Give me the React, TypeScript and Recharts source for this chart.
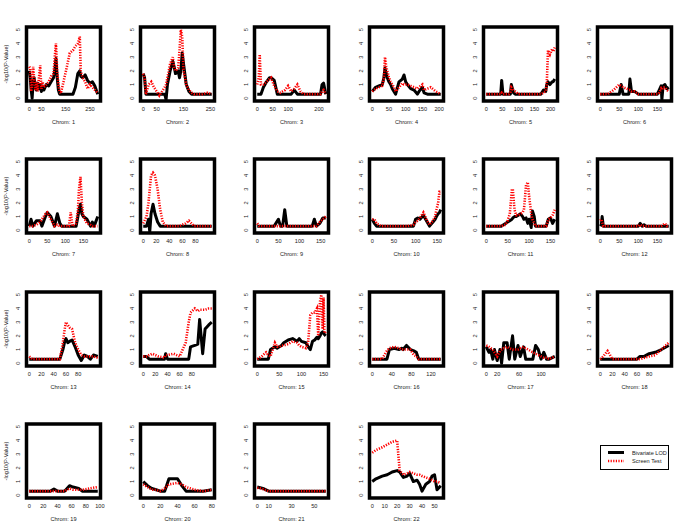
import React from "react";
import { LineChart, Line, XAxis, YAxis, ReferenceArea } from "recharts";

// marker positions (x), bivariate LOD (black) and screen test (red) per chromosome
const chr1Pos = [0, 4, 8, 12, 16, 20, 25, 30, 35, 40, 45, 50, 55, 60, 70, 80, 90, 100, 105, 110, 115, 120, 125, 130, 150, 167, 180, 190, 200, 208, 212, 220, 230, 240, 250, 260, 270, 282];
const chr1Lod = [2.0, 1.5, 0.6, 0.0, 1.2, 1.5, 0.8, 0.6, 1.1, 0.7, 1.0, 0.5, 0.9, 0.6, 1.0, 0.9, 1.2, 1.5, 2.0, 2.9, 1.5, 0.6, 0.3, 0.3, 0.3, 0.3, 0.3, 0.8, 1.8, 2.0, 1.6, 1.5, 1.7, 1.3, 1.1, 1.2, 0.9, 0.3];
const chr1Scr = [2.3, 2.2, 0.5, 1.0, 2.3, 1.5, 0.6, 1.2, 0.5, 1.5, 2.4, 0.7, 1.2, 0.8, 1.0, 1.2, 1.6, 1.8, 3.0, 4.0, 2.0, 1.0, 0.5, 0.35, 1.9, 3.3, 3.5, 3.8, 4.0, 4.5, 2.0, 1.5, 1.2, 0.7, 1.0, 0.8, 0.6, 0.4];
const chr1Ticks = [0, 50, 150, 250];

const chr2Pos = [0, 5, 10, 20, 30, 40, 50, 60, 70, 80, 85, 90, 100, 110, 115, 120, 130, 135, 140, 145, 150, 160, 170, 180, 190, 200, 220, 240, 255];
const chr2Lod = [1.8, 1.5, 0.3, 0.3, 0.3, 0.3, 0.3, 0.3, 0.3, 0.3, -0.1, 1.0, 2.0, 2.7, 2.3, 1.8, 2.0, 1.5, 2.0, 3.3, 2.5, 1.0, 0.5, 0.3, 0.3, 0.3, 0.3, 0.3, 0.3];
const chr2Scr = [1.8, 1.5, 0.3, 1.0, 1.2, 0.8, 0.5, 0.2, 0.5, 0.8, 1.0, 1.5, 2.5, 3.0, 2.2, 2.0, 2.2, 3.5, 5.0, 4.5, 2.0, 1.0, 0.6, 0.4, 0.3, 0.3, 0.3, 0.4, 0.3];
const chr2Ticks = [0, 50, 150, 250];

const chr3Pos = [0, 5, 8, 12, 20, 30, 40, 45, 55, 65, 75, 90, 100, 110, 120, 130, 140, 150, 170, 190, 205, 210, 215, 222];
const chr3Lod = [0.3, 0.3, 0.3, 0.3, 0.8, 1.2, 1.5, 1.5, 1.3, 0.3, 0.3, 0.3, 0.3, 0.3, 0.6, 0.3, 0.3, 0.3, 0.3, 0.3, 0.3, 1.0, 1.1, 0.3];
const chr3Scr = [1.0, 1.5, 3.2, 1.0, 1.0, 1.2, 1.4, 1.5, 0.9, 0.5, 0.4, 0.6, 0.9, 0.5, 0.7, 1.0, 0.5, 0.3, 0.3, 0.3, 0.3, 0.5, 0.6, 0.3];
const chr3Ticks = [0, 50, 100, 200];

const chr4Pos = [0, 10, 20, 30, 35, 38, 42, 45, 50, 55, 60, 65, 70, 80, 90, 95, 100, 105, 115, 125, 135, 140, 150, 155, 165, 175, 190, 205];
const chr4Lod = [0.5, 0.8, 0.9, 1.0, 1.5, 2.2, 1.8, 1.5, 1.2, 1.0, 0.7, 0.5, 0.3, 1.2, 1.4, 1.7, 1.2, 1.0, 0.7, 0.6, 0.3, 0.5, 0.8, 0.4, 0.3, 0.3, 0.3, 0.3];
const chr4Scr = [0.5, 0.7, 0.8, 0.9, 1.5, 3.0, 2.3, 2.0, 1.5, 1.2, 1.0, 0.8, 0.5, 0.8, 1.1, 1.0, 1.0, 1.0, 0.9, 0.8, 0.7, 0.8, 1.0, 0.6, 0.7, 0.8, 0.5, 0.3];
const chr4Ticks = [0, 50, 100, 150, 200];

const chr5Pos = [0, 20, 40, 45, 48, 52, 60, 70, 75, 78, 85, 90, 100, 120, 140, 160, 170, 178, 185, 188, 192, 198, 205, 208, 213];
const chr5Lod = [0.3, 0.3, 0.3, 0.3, 1.3, 0.3, 0.3, 0.3, 0.3, 1.0, 0.4, 0.3, 0.3, 0.3, 0.3, 0.3, 0.3, 0.6, 0.5, 1.0, 1.2, 1.0, 1.2, 1.2, 1.4];
const chr5Scr = [0.3, 0.3, 0.3, 0.3, 0.4, 0.3, 0.3, 0.3, 0.4, 0.8, 0.6, 0.5, 0.3, 0.3, 0.3, 0.3, 0.3, 0.4, 0.5, 1.0, 3.5, 3.2, 3.6, 3.4, 3.7];
const chr5Ticks = [0, 50, 100, 150, 200];

const chr6Pos = [0, 20, 35, 50, 55, 60, 70, 75, 78, 82, 90, 100, 120, 140, 150, 155, 160, 162, 165, 170, 175, 180];
const chr6Lod = [0.3, 0.3, 0.3, 0.3, 1.0, 0.3, 0.3, 0.3, 1.4, 0.5, 0.5, 0.3, 0.3, 0.3, 0.3, 0.6, 0.9, -0.1, 0.9, 1.0, 0.7, 0.8];
const chr6Scr = [0.3, 0.3, 0.6, 1.0, 0.9, 0.8, 0.7, 0.6, 0.6, 0.5, 0.5, 0.3, 0.3, 0.3, 0.3, 0.4, 0.7, 0.6, 0.8, 0.8, 0.6, 0.5];
const chr6Ticks = [0, 50, 100, 150];

const chr7Pos = [0, 5, 10, 20, 30, 35, 45, 50, 60, 70, 78, 85, 90, 110, 115, 120, 130, 135, 138, 142, 146, 150, 160, 170, 175, 180, 190];
const chr7Lod = [0.3, 0.8, 0.3, 0.7, 0.7, 0.3, 1.0, 1.3, 1.0, 0.3, 1.2, 0.5, 0.3, 0.3, 0.3, 0.3, 0.3, 1.0, 1.5, 1.9, 1.2, 1.0, 0.8, 0.3, 0.6, 0.3, 1.0];
const chr7Scr = [0.3, 0.3, 0.3, 0.4, 0.6, 0.8, 1.2, 1.3, 0.8, 0.3, 0.4, 0.3, 0.3, 0.3, 1.3, 0.3, 0.5, 1.5, 3.0, 3.9, 2.0, 1.0, 0.5, 0.4, 0.3, 0.3, 0.3];
const chr7Ticks = [0, 50, 100, 150];

const chr8Pos = [0, 5, 8, 10, 12, 15, 18, 22, 26, 30, 35, 45, 55, 65, 70, 78, 90, 105];
const chr8Lod = [0.3, 0.3, 0.8, -0.1, 1.2, 1.9, 1.2, 0.6, 0.3, 0.3, 0.3, 0.3, 0.3, 0.3, 0.3, 0.3, 0.3, 0.3];
const chr8Scr = [0.5, 1.0, 2.0, 3.0, 4.0, 4.2, 4.0, 3.0, 1.5, 0.6, 0.3, 0.3, 0.3, 0.5, 0.7, 0.3, 0.3, 0.3];
const chr8Ticks = [0, 20, 40, 60, 80];

const chr9Pos = [0, 5, 20, 40, 50, 55, 60, 65, 70, 90, 110, 130, 135, 140, 148, 155, 162];
const chr9Lod = [0.3, 0.3, 0.3, 0.3, 0.8, 0.3, 0.3, 1.5, 0.3, 0.3, 0.3, 0.3, 0.8, 0.3, 0.5, 0.9, 0.9];
const chr9Scr = [0.5, 0.3, 0.3, 0.3, 0.3, 0.3, 0.3, 0.3, 0.3, 0.3, 0.3, 0.3, 0.3, 0.3, 0.6, 0.8, 1.0];
const chr9Ticks = [0, 50, 100, 150];

const chr10Pos = [0, 5, 10, 20, 40, 60, 80, 95, 100, 105, 110, 118, 125, 132, 140, 145, 148, 152, 155, 158];
const chr10Lod = [0.8, 0.5, 0.3, 0.3, 0.3, 0.3, 0.3, 0.3, 0.8, 0.9, 0.8, 1.1, 0.7, 0.3, 0.6, 0.8, 1.0, 1.2, 1.3, 1.5];
const chr10Scr = [0.8, 0.8, 0.5, 0.3, 0.3, 0.3, 0.3, 0.4, 0.6, 0.7, 0.9, 1.3, 0.8, 0.4, 0.7, 1.0, 1.5, 2.0, 2.8, 2.8];
const chr10Ticks = [0, 50, 100, 150];

const chr11Pos = [0, 20, 35, 45, 50, 55, 60, 62, 66, 70, 75, 80, 85, 88, 93, 97, 100, 102, 105, 108, 112, 115, 130, 140, 145, 150, 155, 160];
const chr11Lod = [0.3, 0.3, 0.3, 0.5, 0.6, 0.7, 0.8, 0.9, 1.0, 1.0, 1.1, 1.2, 1.0, 0.8, 0.9, 0.5, 0.8, 0.6, 0.2, 1.4, 1.0, 0.3, 0.3, 0.3, 0.8, 0.9, 0.5, 0.8];
const chr11Scr = [0.3, 0.3, 0.3, 0.4, 0.7, 1.2, 3.0, 3.0, 1.5, 1.1, 1.1, 1.2, 1.3, 1.5, 3.3, 3.5, 2.5, 2.0, 1.2, 0.8, 0.5, 0.3, 0.3, 0.3, 0.8, 0.9, 1.1, 1.5];
const chr11Ticks = [0, 50, 100, 150];

const chr12Pos = [0, 3, 5, 8, 20, 40, 60, 80, 100, 105, 110, 115, 120, 140, 160, 170, 175, 180];
const chr12Lod = [0.3, 0.4, 1.0, 0.3, 0.3, 0.3, 0.3, 0.3, 0.3, 0.5, 0.3, 0.4, 0.3, 0.3, 0.3, 0.3, 0.3, 0.3];
const chr12Scr = [0.7, 0.8, 0.6, 0.3, 0.3, 0.3, 0.3, 0.3, 0.3, 0.4, 0.3, 0.3, 0.3, 0.3, 0.3, 0.5, 0.3, 0.3];
const chr12Ticks = [0, 50, 100, 150];

const chr13Pos = [0, 5, 20, 40, 50, 55, 58, 60, 63, 66, 70, 75, 80, 85, 90, 95, 100, 105, 112];
const chr13Lod = [0.3, 0.3, 0.3, 0.3, 0.3, 1.0, 1.6, 1.8, 1.5, 1.6, 1.7, 1.2, 0.6, 0.2, 0.6, 0.5, 0.3, 0.6, 0.5];
const chr13Scr = [0.5, 0.3, 0.3, 0.3, 0.3, 1.5, 2.5, 3.0, 2.8, 2.6, 2.5, 1.5, 1.0, 0.6, 0.5, 0.5, 0.5, 0.5, 0.4];
const chr13Ticks = [0, 20, 40, 60, 80];

const chr14Pos = [0, 5, 10, 15, 25, 35, 37, 40, 50, 60, 70, 75, 78, 85, 90, 93, 98, 102, 108, 113];
const chr14Lod = [0.5, 0.5, 0.3, 0.3, 0.3, 0.3, 0.7, 0.3, 0.3, 0.3, 0.3, 0.3, 1.2, 1.3, 1.4, 3.2, 0.7, 2.5, 2.8, 3.0];
const chr14Scr = [0.5, 0.5, 0.6, 0.7, 0.5, 0.4, 0.6, 0.6, 0.7, 0.5, 1.5, 3.0, 3.7, 4.0, 3.8, 3.9, 3.9, 3.9, 4.0, 4.0];
const chr14Ticks = [0, 20, 40, 60, 80];

const chr15Pos = [0, 10, 20, 25, 30, 40, 45, 50, 55, 60, 70, 80, 90, 95, 100, 110, 115, 120, 125, 130, 135, 138, 142, 145, 148, 150, 152, 155];
const chr15Lod = [0.3, 0.3, 0.3, 0.3, 1.0, 1.2, 1.1, 1.2, 1.3, 1.5, 1.7, 1.8, 1.6, 1.8, 1.6, 1.5, 1.2, 1.0, 1.6, 1.7, 1.9, 1.8, 2.0, 2.2, 2.3, 2.2, 2.1, 2.0];
const chr15Scr = [0.3, 0.5, 0.8, 0.6, 0.5, 1.5, 1.2, 1.2, 1.3, 1.3, 1.4, 1.6, 1.5, 1.3, 1.2, 1.1, 1.5, 3.5, 3.7, 3.7, 4.0, 2.0, 4.5, 5.0, 2.5, 4.8, 2.2, 2.3];
const chr15Ticks = [0, 50, 100, 150];

const chr16Pos = [0, 20, 28, 30, 35, 45, 55, 60, 63, 70, 78, 85, 90, 95, 110, 125, 140];
const chr16Lod = [0.3, 0.3, 0.3, 0.3, 1.0, 1.1, 1.0, 1.1, 1.0, 1.3, 1.0, 0.9, 0.8, 0.3, 0.3, 0.3, 0.3];
const chr16Scr = [0.3, 0.3, 0.8, 0.9, 1.1, 1.2, 1.1, 1.0, 1.0, 1.0, 1.0, 0.6, 0.5, 0.3, 0.3, 0.3, 0.3];
const chr16Ticks = [0, 40, 80, 120];

const chr17Pos = [0, 5, 8, 12, 15, 20, 25, 28, 32, 38, 42, 48, 52, 58, 62, 68, 72, 85, 90, 95, 100, 105, 110, 115, 125];
const chr17Lod = [1.2, 0.8, 1.0, 0.3, 1.0, 0.2, 1.0, 0.0, 1.5, 1.5, 0.3, 2.0, 0.3, 1.3, 0.5, 1.2, 0.3, 0.3, 1.3, 1.0, 0.3, 0.8, 0.3, 0.3, 0.5];
const chr17Scr = [1.3, 1.2, 1.1, 1.0, 0.8, 0.5, 0.9, 1.0, 1.1, 1.2, 1.1, 1.0, 1.0, 1.0, 1.1, 1.2, 1.1, 0.8, 0.7, 0.6, 0.5, 0.4, 0.4, 0.3, 0.5];
const chr17Ticks = [0, 20, 60, 100];

const chr18Pos = [0, 5, 12, 20, 30, 40, 50, 60, 65, 72, 80, 90, 100, 112];
const chr18Lod = [0.3, 0.3, 0.3, 0.3, 0.3, 0.3, 0.3, 0.3, 0.5, 0.5, 0.7, 0.8, 1.0, 1.3];
const chr18Scr = [0.3, 0.5, 0.9, 0.3, 0.3, 0.3, 0.3, 0.3, 0.3, 0.4, 0.5, 0.6, 1.0, 1.5];
const chr18Ticks = [0, 20, 40, 60, 80];

const chr19Pos = [0, 10, 20, 30, 35, 40, 50, 57, 62, 70, 75, 85, 97];
const chr19Lod = [0.3, 0.3, 0.3, 0.3, 0.45, 0.3, 0.3, 0.7, 0.6, 0.5, 0.3, 0.3, 0.3];
const chr19Scr = [0.3, 0.3, 0.3, 0.3, 0.3, 0.3, 0.3, 0.5, 0.4, 0.4, 0.4, 0.5, 0.6];
const chr19Ticks = [0, 20, 40, 60, 80, 100];

const chr20Pos = [0, 5, 10, 15, 20, 25, 30, 40, 45, 50, 60, 70, 80];
const chr20Lod = [1.0, 0.7, 0.5, 0.4, 0.3, 0.3, 1.2, 1.2, 0.7, 0.3, 0.3, 0.3, 0.4];
const chr20Scr = [0.8, 0.6, 0.4, 0.4, 0.3, 0.5, 0.8, 0.9, 0.8, 0.6, 0.4, 0.3, 0.4];
const chr20Ticks = [0, 20, 40, 60, 80];

const chr21Pos = [0, 5, 10, 20, 30, 40, 50, 60];
const chr21Lod = [0.6, 0.5, 0.3, 0.3, 0.3, 0.3, 0.3, 0.3];
const chr21Scr = [0.55, 0.45, 0.3, 0.3, 0.3, 0.3, 0.3, 0.3];
const chr21Ticks = [0, 10, 30, 50];

const chr22Pos = [0, 3, 8, 12, 16, 20, 22, 25, 28, 30, 33, 36, 38, 40, 43, 46, 48, 50, 52, 55];
const chr22Lod = [1.0, 1.2, 1.4, 1.5, 1.7, 1.8, 1.7, 1.3, 1.4, 1.6, 1.0, 1.1, 0.8, 0.3, 0.8, 1.0, 1.4, 1.5, 0.4, 0.7];
const chr22Scr = [3.1, 3.3, 3.5, 3.7, 3.9, 4.0, 1.8, 1.5, 1.6, 1.7, 1.6, 1.5, 1.5, 1.4, 1.3, 1.2, 1.1, 1.0, 1.0, 0.9];
const chr22Ticks = [0, 10, 20, 30, 40, 50];

const yTicks = [0, 1, 2, 3, 4, 5];
const legendLabels = ["Bivariate LOD", "Screen Test"];

const chroms = [
  [chr1Pos, chr1Lod, chr1Scr, chr1Ticks],
  [chr2Pos, chr2Lod, chr2Scr, chr2Ticks],
  [chr3Pos, chr3Lod, chr3Scr, chr3Ticks],
  [chr4Pos, chr4Lod, chr4Scr, chr4Ticks],
  [chr5Pos, chr5Lod, chr5Scr, chr5Ticks],
  [chr6Pos, chr6Lod, chr6Scr, chr6Ticks],
  [chr7Pos, chr7Lod, chr7Scr, chr7Ticks],
  [chr8Pos, chr8Lod, chr8Scr, chr8Ticks],
  [chr9Pos, chr9Lod, chr9Scr, chr9Ticks],
  [chr10Pos, chr10Lod, chr10Scr, chr10Ticks],
  [chr11Pos, chr11Lod, chr11Scr, chr11Ticks],
  [chr12Pos, chr12Lod, chr12Scr, chr12Ticks],
  [chr13Pos, chr13Lod, chr13Scr, chr13Ticks],
  [chr14Pos, chr14Lod, chr14Scr, chr14Ticks],
  [chr15Pos, chr15Lod, chr15Scr, chr15Ticks],
  [chr16Pos, chr16Lod, chr16Scr, chr16Ticks],
  [chr17Pos, chr17Lod, chr17Scr, chr17Ticks],
  [chr18Pos, chr18Lod, chr18Scr, chr18Ticks],
  [chr19Pos, chr19Lod, chr19Scr, chr19Ticks],
  [chr20Pos, chr20Lod, chr20Scr, chr20Ticks],
  [chr21Pos, chr21Lod, chr21Scr, chr21Ticks],
  [chr22Pos, chr22Lod, chr22Scr, chr22Ticks],
];

const FONT = "'Liberation Sans', Arial, sans-serif";
const FS = 5.6;
const TXT = "#222";
const CELL_W = 685 / 6;
const CELL_H = 529 / 4;
const BOX_L = 26.5;
const BOX_T = 27;
const BOX = 74;
const RED = "#f00";

const XTick = (props: any) => (
  <text
    x={props.x}
    y={BOX_T + BOX + 8}
    textAnchor="middle"
    dominantBaseline="central"
    fontSize={FS}
    fontFamily={FONT}
    fill={TXT}
  >
    {props.payload.value}
  </text>
);

const YTick = (props: any) => (
  <text
    transform={`translate(${BOX_L - 8.5}, ${props.y}) rotate(-90)`}
    textAnchor="middle"
    dominantBaseline="central"
    fontSize={FS}
    fontFamily={FONT}
    fill={TXT}
  >
    {props.payload.value}
  </text>
);

function Panel({ idx }: { idx: number }) {
  const [pos, lod, scr, ticks] = chroms[idx];
  const data = pos.map((x, i) => ({ x, lod: lod[i], scr: scr[i] }));
  const hi = Math.max(...pos);
  const pad = hi * 0.04;
  const col = idx % 6;
  const row = Math.floor(idx / 6);
  return (
    <div
      style={{
        position: "absolute",
        left: Math.round(col * CELL_W),
        top: Math.round(row * CELL_H),
        width: 114,
        height: 132,
      }}
    >
      <LineChart
        width={114}
        height={132}
        data={data}
        margin={{ top: BOX_T, right: 114 - BOX_L - BOX, bottom: 132 - BOX_T - BOX - 20, left: BOX_L - 20 }}
      >
        <XAxis
          dataKey="x"
          type="number"
          domain={[-pad, hi + pad]}
          ticks={ticks}
          interval={0}
          tick={XTick}
          tickLine={false}
          axisLine={false}
          height={20}
          allowDataOverflow
        />
        <YAxis
          type="number"
          domain={[-0.2, 5.2]}
          ticks={yTicks}
          interval={0}
          tick={YTick}
          tickLine={false}
          axisLine={false}
          width={20}
          allowDataOverflow
        />
        <Line
          dataKey="lod"
          type="linear"
          stroke="#000"
          strokeWidth={3}
          strokeLinejoin="round"
          dot={false}
          isAnimationActive={false}
        />
        <Line
          dataKey="scr"
          type="linear"
          stroke={RED}
          strokeWidth={2.6}
          strokeDasharray="1.2 1.4"
          dot={false}
          isAnimationActive={false}
        />
        <ReferenceArea
          x1={-pad}
          x2={hi + pad}
          y1={-0.2}
          y2={5.2}
          fill="none"
          stroke="#000"
          strokeWidth={3.5}
          ifOverflow="visible"
        />
      </LineChart>
      <div
        style={{
          position: "absolute",
          left: BOX_L,
          width: BOX,
          top: 119,
          textAlign: "center",
          fontSize: FS,
          fontFamily: FONT,
          color: TXT,
          lineHeight: "7px",
        }}
      >
        {`Chrom: ${idx + 1}`}
      </div>
      {col === 0 && (
        <svg
          width={14}
          height={132}
          style={{ position: "absolute", left: 0, top: 0 }}
        >
          <text
            transform={`translate(6, ${BOX_T + BOX / 2}) rotate(-90)`}
            textAnchor="middle"
            dominantBaseline="central"
            fontSize={FS}
            fontFamily={FONT}
            fill={TXT}
          >
            -log10(P-Value)
          </text>
        </svg>
      )}
    </div>
  );
}

function LegendBox() {
  return (
    <svg
      width={70}
      height={26}
      style={{ position: "absolute", left: 599.5, top: 445 }}
    >
      <rect x={0.5} y={0.5} width={68} height={24} fill="#fff" stroke="#000" strokeWidth={1} />
      <line x1={8} x2={24} y1={7.5} y2={7.5} stroke="#000" strokeWidth={3} />
      <line x1={8} x2={24} y1={16} y2={16} stroke={RED} strokeWidth={2.6} strokeDasharray="1.2 1.4" />
      {legendLabels.map((t, i) => (
        <text
          key={t}
          x={32}
          y={7.5 + i * 8.5}
          dominantBaseline="central"
          fontSize={FS}
          fontFamily={FONT}
          fill={TXT}
        >
          {t}
        </text>
      ))}
    </svg>
  );
}

export default function App() {
  return (
    <div
      style={{
        position: "absolute",
        left: 0,
        top: 0,
        width: 685,
        height: 529,
        background: "#fff",
        overflow: "hidden",
      }}
    >
      {chroms.map((_, i) => (
        <Panel key={i} idx={i} />
      ))}
      <LegendBox />
    </div>
  );
}
